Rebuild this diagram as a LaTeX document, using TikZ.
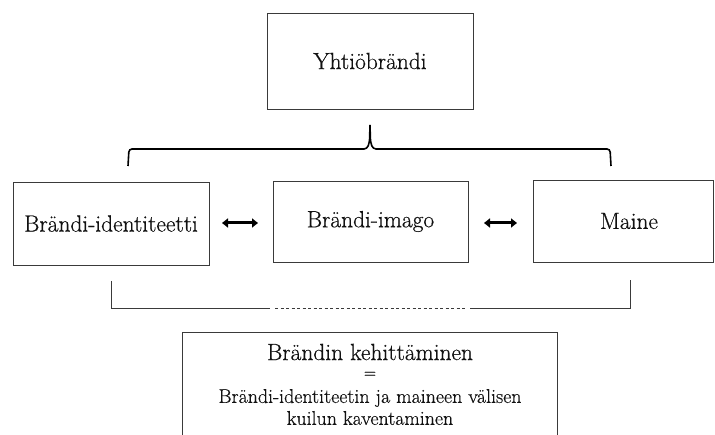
\documentclass[tikz,border=0pt]{standalone}
\usepackage{fontspec}
\setmainfont{Latin Modern Roman}[FakeBold=0.5,AutoFakeBold=0.5]
\usetikzlibrary{arrows.meta}
\definecolor{boxline}{HTML}{3A3A3A}
\definecolor{txt}{HTML}{111111}
\begin{document}
\begin{tikzpicture}[x=1bp,y=-1bp,
  box/.style={draw=boxline,line width=0.9bp,inner sep=0pt,text=txt,font=\fontsize{23.5}{26}\selectfont\bfseries},
  lbl/.style={inner sep=0pt,text=txt},
  dbl/.style={{Triangle[width=9bp,length=6bp]}-{Triangle[width=9bp,length=6bp]},line width=3bp,black},
  brace/.style={line width=1.6bp,black,rounded corners=3bp},
  bracket/.style={draw=boxline,line width=1bp}]
\useasboundingbox (0,0) rectangle (715,435);
\node[box,minimum width=206bp,minimum height=96bp] (corp) at (370,61) {Yhtiöbrändi};
\node[box,minimum width=196bp,minimum height=83bp] (ident) at (111,223.5) {Brändi-identiteetti};
\node[box,minimum width=195bp,minimum height=81bp] (image) at (370.5,221.5) {Brändi-imago};
\node[box,minimum width=180bp,minimum height=82bp,text width=180bp,align=center] (rep) at (623,221) {\hspace*{12bp}Maine};
\coordinate (a1) at (222,223);
\coordinate (a2) at (258,223);
\coordinate (a3) at (484,223);
\coordinate (a4) at (517,223);
\draw[dbl] (a1) -- (a2);
\draw[dbl] (a3) -- (a4);
% brace
\coordinate (bl) at (128,166);
\coordinate (br) at (611,166);
\coordinate (tip) at (370,125);
\draw[brace] (bl) -- (129,149) -- (367,149) -- (369.5,142) [sharp corners] -- (tip);
\draw[brace] (tip) -- (370.5,142) -- (373,149) -- (610,149) -- (br);
% bottom bracket
\coordinate (ul) at (111,281);
\coordinate (ur) at (630,280);
\coordinate (d1) at (270,309);
\coordinate (d2) at (275,309);
\coordinate (d3) at (467,309);
\coordinate (d4) at (470,309);
\draw[bracket] (ul) |- (d1);
\draw[bracket,dash pattern=on 3bp off 2.5bp] (d2) -- (d3);
\draw[bracket] (d4) -| (ur);
% bottom box
\node[inner sep=0pt,minimum width=374bp,minimum height=106bp] (dev) at (370,386) {};
\draw[bracket] (dev.south west) -- (dev.north west) -- (dev.north east) -- (dev.south east);
\node[lbl,font=\fontsize{23.5}{26}\selectfont\bfseries] (t1) at (370,352) {Brändin kehittäminen};
\node[lbl,font=\fontsize{17}{19}\selectfont\bfseries] (t2) at (370,375) {=};
\node[lbl,font=\fontsize{20}{22}\selectfont\bfseries] (t3) at (370,398) {Brändi-identiteetin ja maineen välisen};
\node[lbl,font=\fontsize{20}{22}\selectfont\bfseries] (t4) at (370,418) {kuilun kaventaminen};
\end{tikzpicture}
\end{document}
